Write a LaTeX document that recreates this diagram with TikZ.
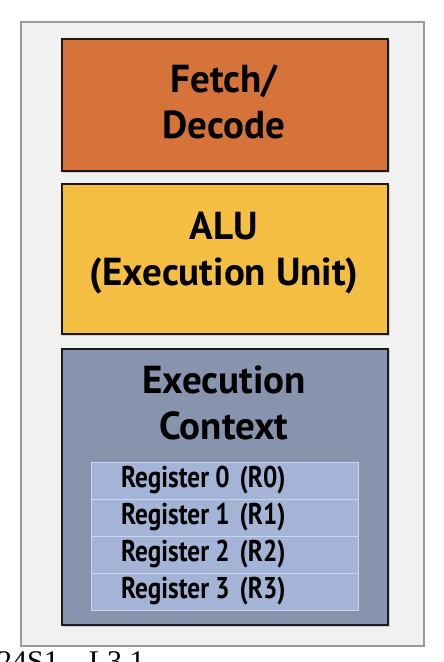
\documentclass[tikz,border=0pt]{standalone}
\usepackage{fontspec}
\setmainfont{Liberation Serif}
\newfontfamily\titlefont{PT Sans}
\newfontfamily\regfont{PT Sans}[FakeStretch=0.84]
\definecolor{outerfill}{HTML}{F1F1F1}
\definecolor{outerline}{HTML}{9A9A9A}
\definecolor{fetchfill}{HTML}{D5733A}
\definecolor{alufill}{HTML}{F5BF43}
\definecolor{ctxfill}{HTML}{8893AE}
\definecolor{regfill}{HTML}{A4B4D6}
\definecolor{regline}{HTML}{CBD6F2}
\definecolor{boxline}{HTML}{1A1A1A}
\definecolor{shadowc}{HTML}{CFCFCF}
\tikzset{
  unitbox/.style={draw=boxline, line width=2pt, minimum width=326pt, anchor=north west, inner sep=0pt},
  titletext/.style={font=\titlefont\bfseries\fontsize{39}{46}\selectfont, align=center, inner sep=0pt},
  regtext/.style={font=\regfont\bfseries\fontsize{30}{30}\selectfont, anchor=west, inner sep=0pt},
  regrow/.style={draw=regline, line width=1.2pt, fill=regfill, minimum width=267pt, minimum height=37pt, anchor=north west, inner sep=0pt},
}
\begin{document}
\begin{tikzpicture}[x=1pt,y=-1pt]
\useasboundingbox (0,0) rectangle (444,662);
\begin{scope}
\clip (0,0) rectangle (444,662);
\node[draw=outerline, line width=1.5pt, fill=outerfill, minimum width=403pt, minimum height=624pt, anchor=north west, inner sep=0pt] (outer) at (20,21) {};
% shadows
\fill[shadowc] (63,40) rectangle (390,173);
\fill[shadowc] (63,185) rectangle (390,336);
\fill[shadowc] (63,350) rectangle (390,627);
\node[unitbox, fill=fetchfill, minimum height=132pt] (fetch) at (61,38) {};
\node[unitbox, fill=alufill, minimum height=150pt] (alu) at (61,183) {};
\node[unitbox, fill=ctxfill, minimum height=276pt] (ctx) at (61,348) {};
\node[titletext] (fetchtxt) at (224,102) {Fetch/\\Decode};
\node[titletext] (alutxt) at (224,253) {ALU\\(Execution Unit)};
\node[titletext] (ctxtxt) at (224,403) {Execution\\Context};
\node[regrow] (r0) at (91,462) {};
\node[regrow] (r1) at (91,499) {};
\node[regrow] (r2) at (91,536) {};
\node[regrow] (r3) at (91,573) {};
\node[regtext] (t0) at (121,480.5) {Register 0\,\,(R0)};
\node[regtext] (t1) at (121,517.5) {Register 1\,\,(R1)};
\node[regtext] (t2) at (121,554.5) {Register 2\,\,(R2)};
\node[regtext] (t3) at (121,591.5) {Register 3\,\,(R3)};
\node[font=\fontsize{30}{30}\selectfont, anchor=north west, inner sep=0pt] (foot) at (-3,651) {24S1 -- L3 1};
\end{scope}
\end{tikzpicture}
\end{document}
